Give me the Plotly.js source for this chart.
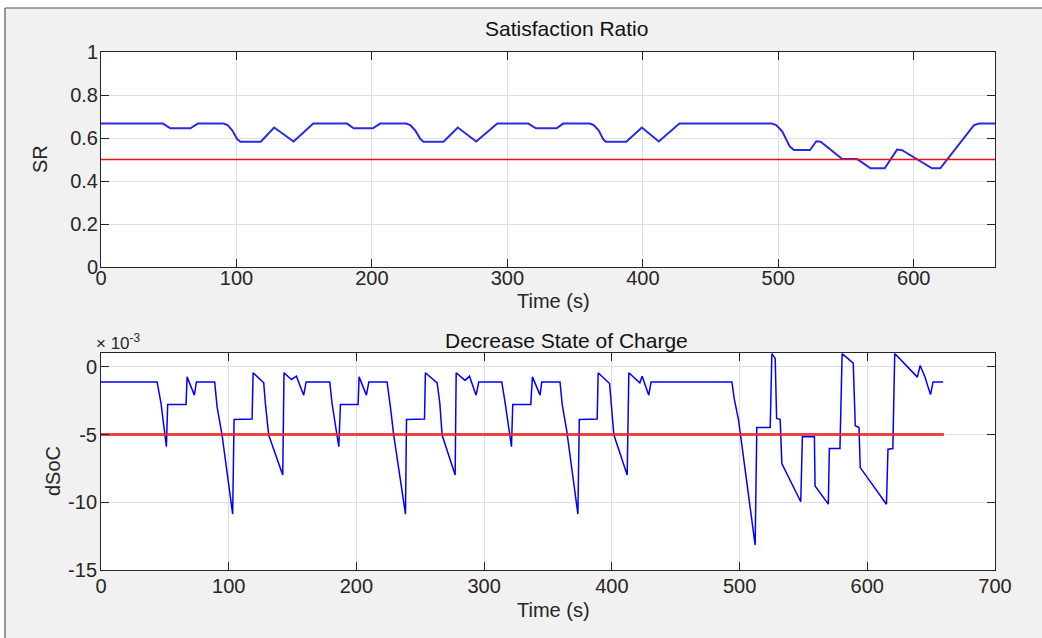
<!DOCTYPE html>
<html>
<head>
<meta charset="utf-8">
<script src="https://cdn.plot.ly/plotly-3.0.1.min.js"></script>
<style>
html,body{margin:0;padding:0;background:#ffffff;}
#chart{width:1042px;height:638px;}
</style>
</head>
<body>
<div id="chart"></div>
<script>
// ---- Data ----
const srTime = [0, 45.7, 51.2, 66.0, 71.5, 90.5, 93.5, 97.0, 100.5, 102.9, 118.0, 127.8, 142.2, 156.7,
  181.6, 186.5, 200.7, 206.1, 225.3, 228.3, 232.0, 235.8, 238.1, 252.9, 263.4, 277.0, 292.6,
  315.5, 321.1, 336.3, 341.2, 360.8, 363.8, 367.5, 370.7, 372.6, 387.8, 399.3, 411.8, 427.0,
  495.2, 498.5, 503.0, 508.5, 511.7, 523.4, 528.1, 531.3, 547.2, 558.3, 568.1, 578.6, 587.7,
  591.4, 613.5, 619.6, 644.5, 648.5, 660];
const srValue = [0.667, 0.667, 0.645, 0.645, 0.667, 0.667, 0.660, 0.635, 0.595, 0.583, 0.583, 0.649, 0.584, 0.667,
  0.667, 0.645, 0.645, 0.667, 0.667, 0.660, 0.635, 0.595, 0.583, 0.583, 0.649, 0.584, 0.667,
  0.667, 0.645, 0.645, 0.667, 0.667, 0.660, 0.635, 0.595, 0.583, 0.583, 0.649, 0.584, 0.667,
  0.667, 0.660, 0.630, 0.560, 0.544, 0.544, 0.585, 0.583, 0.502, 0.502, 0.459, 0.459, 0.546,
  0.543, 0.459, 0.459, 0.660, 0.667, 0.667];

const dsocTime = [0, 43.9, 47.0, 51.2, 52.2, 66.6, 67.4, 73.1, 74.7, 89.0, 90.9, 94.8, 103.1, 104.2,
  118.3, 119.1, 127.4, 128.7, 131.3, 142.3, 143.3, 149.1, 153.0, 158.7, 160.6,
  179.1, 180.9, 186.2, 187.5, 201.3, 202.1, 207.8, 209.7, 224.0, 226.6, 229.2, 238.4, 239.2,
  253.3, 254.0, 263.2, 265.3, 267.1, 277.3, 278.1, 285.1, 288.5, 293.7, 295.8,
  313.8, 316.5, 321.4, 322.4, 336.5, 337.8, 343.8, 345.1, 359.4, 361.2, 364.6, 373.4, 374.5,
  388.5, 389.3, 398.2, 399.5, 401.6, 412.0, 413.3, 421.9, 423.7, 428.9, 430.7,
  494.0, 495.8, 499.2, 512.2, 513.5, 524.0, 525.3, 527.9, 529.0, 531.8, 533.1, 547.9, 549.2,
  558.6, 559.1, 569.5, 570.3, 578.6, 580.3, 589.0, 590.6, 593.5, 594.5, 615.0, 616.2, 620.0,
  621.5, 628.0, 639.2, 641.4, 645.1, 649.5, 651.5, 659.4];
// dSoC values in units of 10^-3
const dsocValue = [-1.11, -1.11, -2.70, -5.90, -2.78, -2.78, -0.74, -2.09, -1.11, -1.11, -2.96, -5.04, -10.87, -3.88,
  -3.85, -0.44, -1.18, -2.70, -5.04, -7.99, -0.44, -0.93, -0.69, -2.09, -1.11,
  -1.11, -2.70, -5.90, -2.78, -2.78, -0.74, -2.09, -1.11, -1.11, -2.96, -5.04, -10.87, -3.88,
  -3.85, -0.44, -1.18, -2.70, -5.04, -7.99, -0.44, -1.00, -0.69, -2.09, -1.11,
  -1.11, -2.70, -5.90, -2.78, -2.78, -0.74, -2.09, -1.11, -1.11, -2.83, -4.67, -10.87, -3.88,
  -3.85, -0.44, -1.23, -2.83, -5.04, -7.99, -0.44, -1.18, -0.69, -2.09, -1.11,
  -1.11, -2.34, -3.94, -13.16, -4.48, -4.48, 0.98, 0.62, -3.81, -3.88, -7.14, -9.96, -5.17,
  -5.17, -8.79, -10.14, -6.03, -6.03, 0.98, 0.27, -4.35, -4.48, -7.44, -10.15, -6.08, -6.03,
  0.98, 0.35, -0.76, 0.10, -0.73, -2.05, -1.11, -1.11];

const thresholdTime = [0, 660];
const srThreshold = [0.5, 0.5];
const dsocThreshold = [-5, -5];

const srTickVals = [0, 0.2, 0.4, 0.6, 0.8, 1];
const srTickText = ['0', '0.2', '0.4', '0.6', '0.8', '1'];
const dsocTickVals = [0, -5, -10, -15];
const dsocTickText = ['0', '-5', '-10', '-15'];
const topTimeTicks = [0, 100, 200, 300, 400, 500, 600];
const bottomTimeTicks = [0, 100, 200, 300, 400, 500, 600, 700];

// ---- Layout helpers ----
const W = 1042, H = 638;
const px = v => v / W;
const py = v => 1 - v / H;
const FONT = 'Liberation Sans, Arial, Helvetica, sans-serif';
const TXT = '#262626';

function axisBase(extra) {
  return Object.assign({
    showline: true, linecolor: '#262626', linewidth: 1, mirror: 'ticks',
    ticks: 'inside', ticklen: 8, tickwidth: 1, tickcolor: '#262626',
    showgrid: true, gridcolor: '#dedede', gridwidth: 1, zeroline: false,
    tickfont: {family: FONT, size: 20, color: TXT},
    fixedrange: true
  }, extra);
}

const traces = [
  {x: srTime, y: srValue, xaxis: 'x', yaxis: 'y', type: 'scatter', mode: 'lines',
   line: {color: '#2a2ae0', width: 2}, hoverinfo: 'skip'},
  {x: thresholdTime, y: srThreshold, xaxis: 'x', yaxis: 'y', type: 'scatter', mode: 'lines',
   line: {color: '#ee1111', width: 1.6}, hoverinfo: 'skip'},
  {x: dsocTime, y: dsocValue, xaxis: 'x2', yaxis: 'y2', type: 'scatter', mode: 'lines',
   line: {color: '#0000ff', width: 1.5}, hoverinfo: 'skip'},
  {x: thresholdTime, y: dsocThreshold, xaxis: 'x2', yaxis: 'y2', type: 'scatter', mode: 'lines',
   line: {color: 'rgba(230,40,40,0.85)', width: 3}, hoverinfo: 'skip'}
];

const xDom = [px(101), px(995)];

const layout = {
  width: W, height: H, autosize: false,
  margin: {l: 0, r: 0, t: 0, b: 0, pad: 0},
  paper_bgcolor: '#f1f1f1', plot_bgcolor: '#ffffff',
  showlegend: false,
  font: {family: FONT, color: TXT},
  xaxis: axisBase({domain: xDom, anchor: 'y', range: [0, 660], tickvals: topTimeTicks,
    ticktext: topTimeTicks.map(String), ticklabelstandoff: -7}),
  yaxis: axisBase({domain: [py(267), py(52)], anchor: 'x', range: [0, 1], tickvals: srTickVals,
    ticktext: srTickText, ticklabelstandoff: -2}),
  xaxis2: axisBase({domain: xDom, anchor: 'y2', range: [0, 700], tickvals: bottomTimeTicks,
    ticktext: bottomTimeTicks.map(String), ticklabelstandoff: -2}),
  yaxis2: axisBase({domain: [py(570), py(353.3)], anchor: 'x2', range: [-15, 1], tickvals: dsocTickVals,
    ticktext: dsocTickText, ticklabelstandoff: -1}),
  shapes: [
    {type: 'rect', xref: 'paper', yref: 'paper', x0: 0, x1: 1, y0: py(8), y1: 1,
     fillcolor: '#ffffff', line: {width: 0}, layer: 'above'},
    {type: 'rect', xref: 'paper', yref: 'paper', x0: 0, x1: px(5), y0: 0, y1: 1,
     fillcolor: '#ffffff', line: {width: 0}, layer: 'above'},
    {type: 'line', xref: 'paper', yref: 'paper', x0: px(5), x1: 1, y0: py(8), y1: py(8),
     line: {color: '#555555', width: 1.2}, layer: 'above'},
    {type: 'line', xref: 'paper', yref: 'paper', x0: px(5), x1: px(5), y0: py(8), y1: 0,
     line: {color: '#555555', width: 1.2}, layer: 'above'}
  ],
  annotations: [
    {text: 'Satisfaction Ratio', xref: 'paper', yref: 'paper', x: px(566.5), y: py(28.5),
     xanchor: 'center', yanchor: 'middle', showarrow: false, font: {family: FONT, size: 21, color: '#111111'}},
    {text: 'Decrease State of Charge', xref: 'paper', yref: 'paper', x: px(566.5), y: py(340),
     xanchor: 'center', yanchor: 'middle', showarrow: false, font: {family: FONT, size: 21, color: '#111111'}},
    {text: 'Time (s)', xref: 'paper', yref: 'paper', x: px(553), y: py(301.5),
     xanchor: 'center', yanchor: 'middle', showarrow: false, font: {family: FONT, size: 20, color: TXT}},
    {text: 'Time (s)', xref: 'paper', yref: 'paper', x: px(553), y: py(610),
     xanchor: 'center', yanchor: 'middle', showarrow: false, font: {family: FONT, size: 20, color: TXT}},
    {text: 'SR', xref: 'paper', yref: 'paper', x: px(40), y: py(159), textangle: -90,
     xanchor: 'center', yanchor: 'middle', showarrow: false, font: {family: FONT, size: 20, color: TXT}},
    {text: 'dSoC', xref: 'paper', yref: 'paper', x: px(53), y: py(471), textangle: -90,
     xanchor: 'center', yanchor: 'middle', showarrow: false, font: {family: FONT, size: 20, color: TXT}},
    {text: '× 10<sup>-3</sup>', xref: 'paper', yref: 'paper', x: px(94), y: py(341.5),
     xanchor: 'left', yanchor: 'middle', showarrow: false, font: {family: FONT, size: 17, color: TXT}}
  ]
};

Plotly.newPlot('chart', traces, layout, {staticPlot: true, displayModeBar: false});
</script>
</body>
</html>
